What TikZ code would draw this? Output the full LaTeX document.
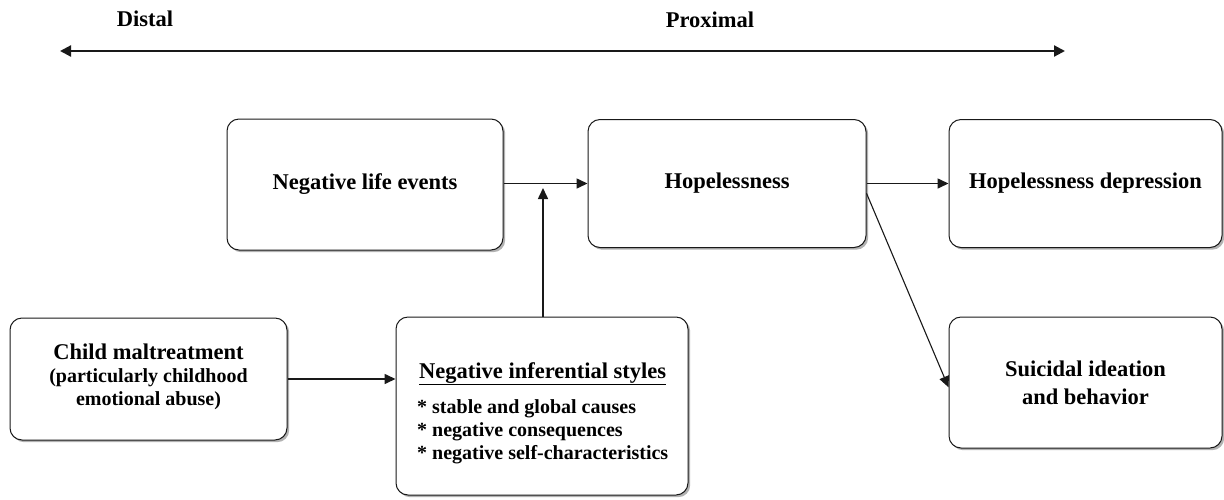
\documentclass[tikz,border=0pt]{standalone}
\usepackage{fontspec}
\setmainfont{Liberation Serif}
\usetikzlibrary{arrows.meta,shadows,calc}
\begin{document}
\begin{tikzpicture}[x=1pt,y=-1pt,
  box/.style={draw=black!90,line width=1pt,rounded corners=12pt,fill=white,
    drop shadow={shadow xshift=2.2pt,shadow yshift=-2.2pt,fill=black!30,opacity=1},
    align=center,font=\bfseries\fontsize{22.5}{23}\selectfont,inner sep=0pt},
  conn/.style={line width=1.6pt,draw=black!90,-{Triangle[length=11pt,width=10pt]}},
  lbl/.style={font=\bfseries\fontsize{22.5}{23}\selectfont,inner sep=0pt}]
\useasboundingbox (0,0) rectangle (1224,499);
% axis
\node[lbl] (distal) at (145,19) {Distal};
\node[lbl] (proximal) at (710,20) {Proximal};
\coordinate (axl) at (60,51);
\coordinate (axr) at (1065,51);
\draw[line width=2.2pt,draw=black!90,{Triangle[length=11pt,width=11pt]}-{Triangle[length=11pt,width=11pt]}] (axl) -- (axr);
% boxes
\node[box,minimum width=276pt,minimum height=131pt] (nle) at (365,184.5) {Negative life events};
\node[box,minimum width=278pt,minimum height=128pt] (hop) at (727,183.5) {Hopelessness};
\node[box,minimum width=273pt,minimum height=128pt] (hd) at (1085.5,183.5) {Hopelessness depression};
\node[box,minimum width=277pt,minimum height=122pt,text depth=8pt] (child) at (148.5,379)
  {Child maltreatment\\{\fontsize{20}{23}\selectfont(particularly childhood}\\{\fontsize{20}{23}\selectfont emotional abuse)}};
\node[box,minimum width=292pt,minimum height=178pt] (nis) at (542,406) {};
\node[font=\bfseries\fontsize{20}{23}\selectfont,inner sep=0pt,align=left,anchor=west] (nist) at (417,413)
  {\makebox[251pt][c]{\fontsize{22.5}{23}\selectfont\underline{Negative inferential styles}}\\[12pt]
   * stable and global causes\\
   * negative consequences\\
   * negative self-characteristics};
\node[box,minimum width=273pt,minimum height=131pt,font=\bfseries\fontsize{22.5}{28}\selectfont] (sui) at (1085.5,382.5)
  {Suicidal ideation\\and behavior};
% connectors
\coordinate (join) at (543,188);
\draw[conn] (hop.west -| nle.east) -- (hop.west);
\draw[conn] (nis.north -| join) -- (join);
\draw[conn] (hop.east) -- (hd.west);
\draw[conn] (child.east) -- (child.east -| nis.west);
\draw[conn,line width=1.1pt] (hop.-4.5) -- (sui.182);
\end{tikzpicture}
\end{document}
